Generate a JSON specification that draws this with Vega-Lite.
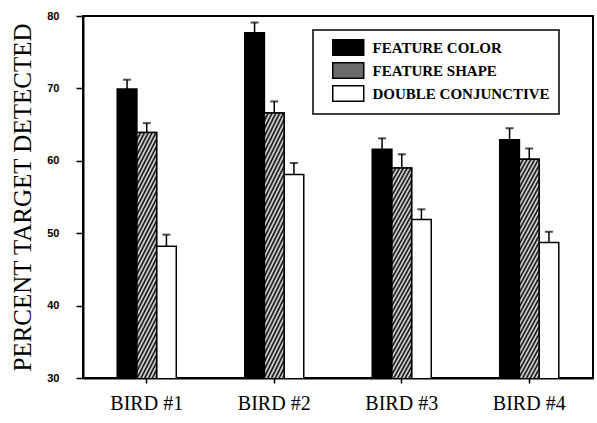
{
  "$schema": "https://vega.github.io/schema/vega-lite/v6.json",
  "autosize": "none",
  "width": 510,
  "height": 362,
  "padding": {"left": 83, "top": 16, "right": 4, "bottom": 45},
  "background": "white",
  "config": {
    "view": {"stroke": "black", "strokeWidth": 2},
    "axis": {"grid": false, "domainColor": "black", "domainWidth": 2, "tickColor": "black", "tickWidth": 1.5, "labelColor": "black", "titleColor": "black"}
  },
  "data": {"values": [
    {"bird": "BIRD #1", "cond": "FEATURE COLOR", "value": 69.9, "upper": 71.2},
    {"bird": "BIRD #1", "cond": "FEATURE SHAPE", "value": 63.9, "upper": 65.2},
    {"bird": "BIRD #1", "cond": "DOUBLE CONJUNCTIVE", "value": 48.2, "upper": 49.8},
    {"bird": "BIRD #2", "cond": "FEATURE COLOR", "value": 77.7, "upper": 79.1},
    {"bird": "BIRD #2", "cond": "FEATURE SHAPE", "value": 66.6, "upper": 68.2},
    {"bird": "BIRD #2", "cond": "DOUBLE CONJUNCTIVE", "value": 58.1, "upper": 59.7},
    {"bird": "BIRD #3", "cond": "FEATURE COLOR", "value": 61.6, "upper": 63.1},
    {"bird": "BIRD #3", "cond": "FEATURE SHAPE", "value": 59.0, "upper": 60.9},
    {"bird": "BIRD #3", "cond": "DOUBLE CONJUNCTIVE", "value": 51.9, "upper": 53.3},
    {"bird": "BIRD #4", "cond": "FEATURE COLOR", "value": 62.9, "upper": 64.5},
    {"bird": "BIRD #4", "cond": "FEATURE SHAPE", "value": 60.2, "upper": 61.7},
    {"bird": "BIRD #4", "cond": "DOUBLE CONJUNCTIVE", "value": 48.7, "upper": 50.2}
  ]},
  "encoding": {
    "x": {"field": "bird", "type": "nominal", "scale": {"paddingInner": 0.537, "paddingOuter": 0.2685},
      "axis": {"title": null, "labelAngle": 0, "labelFont": "Liberation Serif", "labelFontSize": 20, "labelPadding": 10, "tickSize": 5, "bandPosition": 0.5}},
    "xOffset": {"field": "cond", "type": "nominal", "sort": ["FEATURE COLOR", "FEATURE SHAPE", "DOUBLE CONJUNCTIVE"],
      "scale": {"domain": ["FEATURE COLOR", "FEATURE SHAPE", "DOUBLE CONJUNCTIVE"], "paddingInner": 0, "paddingOuter": 0}},
    "y": {"field": "value", "type": "quantitative", "scale": {"domain": [30, 80], "zero": false, "nice": false},
      "axis": {"title": "PERCENT TARGET DETECTED", "titleFont": "Liberation Serif", "titleFontSize": 25, "titleFontWeight": "normal", "titlePadding": 11,
        "values": [30, 40, 50, 60, 70, 80], "labelFont": "Liberation Sans", "labelFontWeight": "bold", "labelFontSize": 11, "labelPadding": 17, "tickSize": 7}}
  },
  "layer": [
    {
      "mark": {"type": "bar", "stroke": "black", "strokeWidth": 1.5, "clip": true},
      "encoding": {
        "color": {"field": "cond", "type": "nominal",
          "scale": {"domain": ["FEATURE COLOR", "FEATURE SHAPE", "DOUBLE CONJUNCTIVE"], "range": ["#000000", "#6a6a6a", "#ffffff"]},
          "legend": {"title": null, "orient": "none", "legendX": 230, "legendY": 14,
            "strokeColor": "black", "padding": 9, "fillColor": "white",
            "symbolType": "M-2,-1H2V1H-2Z", "symbolSize": 240, "symbolOffset": 17.75, "symbolStrokeColor": "black", "symbolStrokeWidth": 1.5, "symbolOpacity": 1,
            "labelFont": "Liberation Serif", "labelFontWeight": "bold", "labelFontSize": 15, "labelColor": "black", "labelOffset": 15.75, "rowPadding": 0, "labelLimit": 300,
            "encode": {"legend": {"update": {"strokeWidth": {"value": 1.5}}}}}}
      }
    },
    {
      "transform": [{"filter": "datum.cond === 'FEATURE SHAPE'"}],
      "mark": {"type": "bar", "stroke": "black", "strokeWidth": 1.5, "clip": true,
        "fill": {"gradient": "linear", "x1": 0, "y1": 0, "x2": 0.083, "y2": 1, "stops": [
{"offset":0,"color":"#000"},{"offset":0.008,"color":"#eee"},{"offset":0.016,"color":"#000"},{"offset":0.024,"color":"#eee"},{"offset":0.032,"color":"#000"},{"offset":0.04,"color":"#eee"},{"offset":0.048,"color":"#000"},{"offset":0.056,"color":"#eee"},{"offset":0.064,"color":"#000"},{"offset":0.072,"color":"#eee"},
{"offset":0.08,"color":"#000"},{"offset":0.088,"color":"#eee"},{"offset":0.096,"color":"#000"},{"offset":0.104,"color":"#eee"},{"offset":0.112,"color":"#000"},{"offset":0.12,"color":"#eee"},{"offset":0.128,"color":"#000"},{"offset":0.136,"color":"#eee"},{"offset":0.144,"color":"#000"},{"offset":0.152,"color":"#eee"},
{"offset":0.16,"color":"#000"},{"offset":0.168,"color":"#eee"},{"offset":0.176,"color":"#000"},{"offset":0.184,"color":"#eee"},{"offset":0.192,"color":"#000"},{"offset":0.2,"color":"#eee"},{"offset":0.208,"color":"#000"},{"offset":0.216,"color":"#eee"},{"offset":0.224,"color":"#000"},{"offset":0.232,"color":"#eee"},
{"offset":0.24,"color":"#000"},{"offset":0.248,"color":"#eee"},{"offset":0.256,"color":"#000"},{"offset":0.264,"color":"#eee"},{"offset":0.272,"color":"#000"},{"offset":0.28,"color":"#eee"},{"offset":0.288,"color":"#000"},{"offset":0.296,"color":"#eee"},{"offset":0.304,"color":"#000"},{"offset":0.312,"color":"#eee"},
{"offset":0.32,"color":"#000"},{"offset":0.328,"color":"#eee"},{"offset":0.336,"color":"#000"},{"offset":0.344,"color":"#eee"},{"offset":0.352,"color":"#000"},{"offset":0.36,"color":"#eee"},{"offset":0.368,"color":"#000"},{"offset":0.376,"color":"#eee"},{"offset":0.384,"color":"#000"},{"offset":0.392,"color":"#eee"},
{"offset":0.4,"color":"#000"},{"offset":0.408,"color":"#eee"},{"offset":0.416,"color":"#000"},{"offset":0.424,"color":"#eee"},{"offset":0.432,"color":"#000"},{"offset":0.44,"color":"#eee"},{"offset":0.448,"color":"#000"},{"offset":0.456,"color":"#eee"},{"offset":0.464,"color":"#000"},{"offset":0.472,"color":"#eee"},
{"offset":0.48,"color":"#000"},{"offset":0.488,"color":"#eee"},{"offset":0.496,"color":"#000"},{"offset":0.504,"color":"#eee"},{"offset":0.512,"color":"#000"},{"offset":0.52,"color":"#eee"},{"offset":0.528,"color":"#000"},{"offset":0.536,"color":"#eee"},{"offset":0.544,"color":"#000"},{"offset":0.552,"color":"#eee"},
{"offset":0.56,"color":"#000"},{"offset":0.568,"color":"#eee"},{"offset":0.576,"color":"#000"},{"offset":0.584,"color":"#eee"},{"offset":0.592,"color":"#000"},{"offset":0.6,"color":"#eee"},{"offset":0.608,"color":"#000"},{"offset":0.616,"color":"#eee"},{"offset":0.624,"color":"#000"},{"offset":0.632,"color":"#eee"},
{"offset":0.64,"color":"#000"},{"offset":0.648,"color":"#eee"},{"offset":0.656,"color":"#000"},{"offset":0.664,"color":"#eee"},{"offset":0.672,"color":"#000"},{"offset":0.68,"color":"#eee"},{"offset":0.688,"color":"#000"},{"offset":0.696,"color":"#eee"},{"offset":0.704,"color":"#000"},{"offset":0.712,"color":"#eee"},
{"offset":0.72,"color":"#000"},{"offset":0.728,"color":"#eee"},{"offset":0.736,"color":"#000"},{"offset":0.744,"color":"#eee"},{"offset":0.752,"color":"#000"},{"offset":0.76,"color":"#eee"},{"offset":0.768,"color":"#000"},{"offset":0.776,"color":"#eee"},{"offset":0.784,"color":"#000"},{"offset":0.792,"color":"#eee"},
{"offset":0.8,"color":"#000"},{"offset":0.808,"color":"#eee"},{"offset":0.816,"color":"#000"},{"offset":0.824,"color":"#eee"},{"offset":0.832,"color":"#000"},{"offset":0.84,"color":"#eee"},{"offset":0.848,"color":"#000"},{"offset":0.856,"color":"#eee"},{"offset":0.864,"color":"#000"},{"offset":0.872,"color":"#eee"},
{"offset":0.88,"color":"#000"},{"offset":0.888,"color":"#eee"},{"offset":0.896,"color":"#000"},{"offset":0.904,"color":"#eee"},{"offset":0.912,"color":"#000"},{"offset":0.92,"color":"#eee"},{"offset":0.928,"color":"#000"},{"offset":0.936,"color":"#eee"},{"offset":0.944,"color":"#000"},{"offset":0.952,"color":"#eee"},
{"offset":0.96,"color":"#000"},{"offset":0.968,"color":"#eee"},{"offset":0.976,"color":"#000"},{"offset":0.984,"color":"#eee"},{"offset":0.992,"color":"#000"},{"offset":1,"color":"#eee"}
        ]}}
    },
    {
      "mark": {"type": "rule", "color": "black", "strokeWidth": 1.5},
      "encoding": {"y2": {"field": "upper"}}
    },
    {
      "mark": {"type": "tick", "color": "black", "size": 8, "thickness": 2, "orient": "horizontal"},
      "encoding": {"y": {"field": "upper", "type": "quantitative"}}
    }
  ]
}
